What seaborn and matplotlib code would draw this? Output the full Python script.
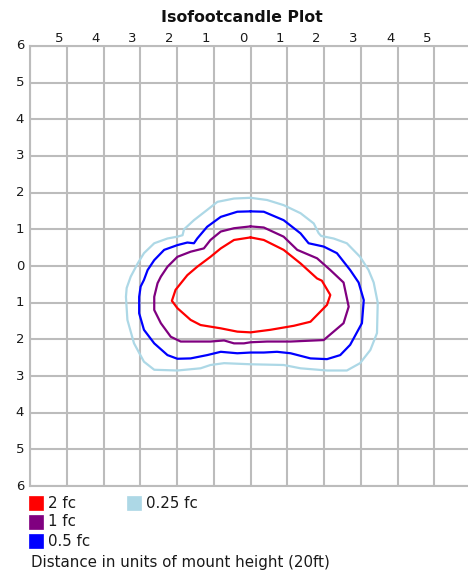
import numpy as np
import pandas as pd
import seaborn as sns
import matplotlib
matplotlib.use("Agg")
import matplotlib.pyplot as plt
from matplotlib.patches import Rectangle

# ---- data (units of mount height) ----
levels = ["2 fc", "1 fc", "0.5 fc", "0.25 fc"]
colors = ["#ff0000", "#800080", "#0000ff", "#add8e6"]

x_2fc = [0, 0.36, 0.90, 1.36, 1.81, 1.94, 2.17, 2.08, 1.63, 1.18, 0.54, 0, -0.36, -0.81, -1.36, -1.63, -1.99, -2.14, -2.04, -1.72, -1.45, -1.09, -0.81, -0.45, 0]
y_2fc = [0.78, 0.71, 0.44, 0.07, -0.34, -0.40, -0.79, -1.06, -1.52, -1.63, -1.74, -1.81, -1.79, -1.70, -1.61, -1.47, -1.15, -0.95, -0.65, -0.25, -0.02, 0.25, 0.48, 0.71, 0.78]

x_1fc = [0, 0.36, 0.90, 1.27, 1.81, 2.17, 2.53, 2.67, 2.53, 1.99, 1.09, 0.45, 0, -0.18, -0.45, -0.72, -1.09, -1.90, -2.17, -2.44, -2.62, -2.62, -2.53, -2.44, -2.26, -1.99, -1.63, -1.27, -1.09, -0.81, -0.45, 0]
y_1fc = [1.08, 1.05, 0.80, 0.44, 0.21, -0.11, -0.45, -1.11, -1.56, -2.02, -2.06, -2.06, -2.08, -2.11, -2.11, -2.03, -2.06, -2.06, -1.93, -1.56, -1.20, -0.84, -0.47, -0.29, -0.02, 0.25, 0.39, 0.48, 0.71, 0.94, 1.03, 1.08]

x_05fc = [0, 0.36, 0.90, 1.36, 1.58, 1.99, 2.35, 2.71, 2.94, 3.08, 3.03, 2.71, 2.44, 2.08, 1.63, 1.09, 0.72, 0.36, 0, -0.36, -0.81, -1.18, -1.63, -1.99, -2.26, -2.62, -2.90, -3.03, -3.03, -2.99, -2.90, -2.80, -2.62, -2.35, -1.99, -1.72, -1.54, -1.45, -1.18, -0.81, -0.36, 0]
y_05fc = [1.49, 1.48, 1.25, 0.89, 0.62, 0.53, 0.35, -0.11, -0.45, -0.93, -1.56, -2.15, -2.43, -2.54, -2.52, -2.38, -2.34, -2.36, -2.36, -2.38, -2.34, -2.43, -2.52, -2.53, -2.43, -2.11, -1.74, -1.29, -0.84, -0.56, -0.38, -0.11, 0.16, 0.44, 0.57, 0.64, 0.62, 0.75, 1.07, 1.34, 1.48, 1.49]

x_025fc = [0, 0.45, 0.90, 1.36, 1.72, 1.85, 1.92, 2.26, 2.62, 2.98, 3.21, 3.35, 3.46, 3.44, 3.26, 2.98, 2.62, 2.08, 1.36, 0.90, 0, -0.72, -1.09, -1.36, -1.99, -2.62, -2.90, -3.17, -3.35, -3.39, -3.37, -3.26, -3.07, -2.90, -2.62, -2.26, -1.99, -1.85, -1.81, -1.54, -1.18, -0.90, -0.45, 0]
y_025fc = [1.86, 1.80, 1.66, 1.44, 1.16, 0.90, 0.82, 0.75, 0.62, 0.25, -0.11, -0.45, -1.00, -1.83, -2.29, -2.65, -2.85, -2.85, -2.79, -2.70, -2.68, -2.65, -2.70, -2.79, -2.85, -2.83, -2.61, -2.11, -1.47, -0.84, -0.60, -0.29, 0.07, 0.35, 0.62, 0.75, 0.80, 0.84, 1.00, 1.25, 1.53, 1.75, 1.84, 1.86]

x_tick_labels = ["5", "4", "3", "2", "1", "0", "1", "2", "3", "4", "5"]
x_tick_values = [-5, -4, -3, -2, -1, 0, 1, 2, 3, 4, 5]
y_tick_labels = ["6", "5", "4", "3", "2", "1", "0", "1", "2", "3", "4", "5", "6"]
y_tick_values = [6, 5, 4, 3, 2, 1, 0, -1, -2, -3, -4, -5, -6]

# ---- figure ----
sns.set_style("white")
plt.rcParams["font.family"] = ["DejaVu Sans"]

W, H = 468, 573
fig = plt.figure(figsize=(W / 100, H / 100), dpi=100)

def fx(px):
    return px / W

def fy(py):
    return 1 - py / H

ax_left, ax_right, ax_top, ax_bot = 30, 468, 46, 486
ax = fig.add_axes([fx(ax_left), fy(ax_bot), fx(ax_right - ax_left), (ax_bot - ax_top) / H])
unit = 36.85
ax.set_xlim(-6, (ax_right - 250) / unit)
ax.set_ylim(-6, 6)

gridc = "#bcbcbc"
for v in range(-6, 7):
    ax.axvline(v, color=gridc, lw=1.5, zorder=0)
    ax.axhline(v, color=gridc, lw=1.5, zorder=0)
for s in ["top", "bottom", "left"]:
    ax.spines[s].set_color(gridc)
    ax.spines[s].set_linewidth(1.5)
ax.spines["right"].set_visible(False)
ax.set_xticks([])
ax.set_yticks([])

frames = []
for name, xs, ys in [("2 fc", x_2fc, y_2fc), ("1 fc", x_1fc, y_1fc),
                     ("0.5 fc", x_05fc, y_05fc), ("0.25 fc", x_025fc, y_025fc)]:
    frames.append(pd.DataFrame({"x": xs, "y": ys, "level": name, "order": range(len(xs))}))
df = pd.concat(frames, ignore_index=True)

for name, c in zip(levels[::-1], colors[::-1]):
    sub = df[df["level"] == name]
    sns.lineplot(data=sub, x="x", y="y", sort=False, estimator=None, color=c,
                 lw=1.6, ax=ax, legend=False)
ax.set_xlabel("")
ax.set_ylabel("")

txtc = "#1a1a1a"
# tick labels
for v, lab in zip(x_tick_values, x_tick_labels):
    fig.text(fx(250 + unit * v - 7), fy(38), lab, ha="center", va="center", fontsize=9.5, color=txtc)
for v, lab in zip(y_tick_values, y_tick_labels):
    fig.text(fx(20), fy(266 - 36.67 * v), lab, ha="center", va="center", fontsize=9.5, color=txtc)

fig.text(fx(242), fy(17), "Isofootcandle Plot", ha="center", va="center",
         fontsize=11.3, fontweight="bold", color="#111111")

# legend
leg = [("2 fc", colors[0], 29, 496), ("1 fc", colors[1], 29, 515),
       ("0.5 fc", colors[2], 29, 534), ("0.25 fc", colors[3], 127, 496)]
for lab, c, px, py in leg:
    fig.patches.append(Rectangle((fx(px), fy(py + 14)), 14 / W, 14 / H, transform=fig.transFigure,
                                 facecolor=c, edgecolor=c, lw=0.5))
    fig.text(fx(px + 19), fy(py + 7), lab, ha="left", va="center", fontsize=10.8, color=txtc)
fig.text(fx(31), fy(562), "Distance in units of mount height (20ft)", ha="left", va="center",
         fontsize=10.8, color=txtc)

fig.savefig("out.png", dpi=100)
